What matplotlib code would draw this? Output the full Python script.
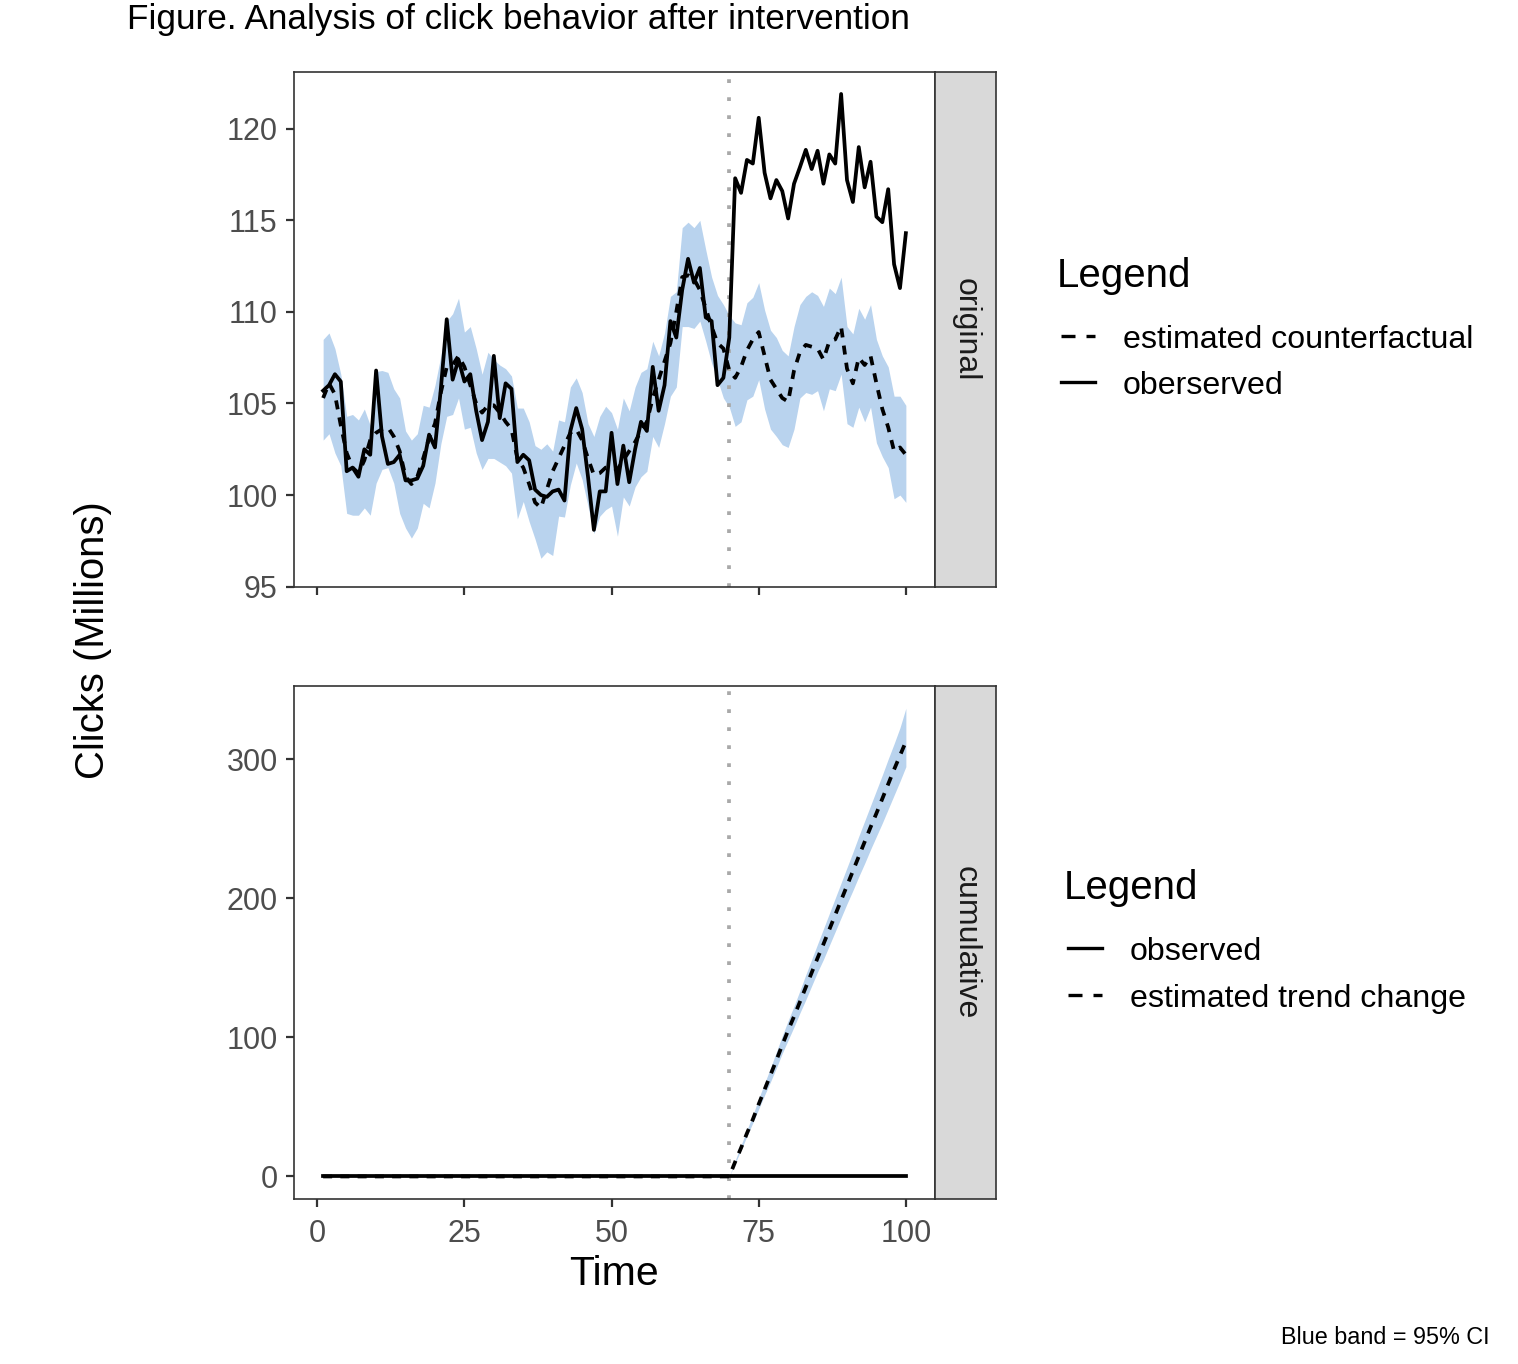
import numpy as np
import matplotlib
matplotlib.use('Agg')
import matplotlib.pyplot as plt
from matplotlib.lines import Line2D

plt.rcParams['font.family'] = ['Liberation Sans', 'DejaVu Sans']

# data
time = list(range(1, 101))
observed = [105.7, 106.0, 106.6, 106.2, 101.3, 101.5, 101.0, 102.5, 102.2, 106.8,
            103.2, 101.7, 101.8, 102.2, 100.8, 100.8, 100.9, 101.6, 103.3, 102.6,
            105.8, 109.6, 106.3, 107.4, 106.2, 106.6, 104.6, 103.0, 104.0, 107.6,
            104.2, 106.1, 105.8, 101.8, 102.2, 101.9, 100.3, 100.0, 99.9, 100.2,
            100.3, 99.7, 103.5, 104.75, 103.6, 101.0, 98.1, 100.2, 100.2, 103.4,
            100.6, 102.7, 100.7, 102.5, 104.0, 103.5, 107.0, 104.6, 106.0, 109.5,
            108.6, 111.2, 112.9, 111.6, 112.4, 109.7, 109.5, 106.0, 106.4, 108.6,
            117.3, 116.5, 118.3, 118.1, 120.6, 117.6, 116.2, 117.2, 116.6, 115.1,
            117.0, 117.9, 118.85, 117.8, 118.8, 117.0, 118.6, 118.1, 121.9, 117.2,
            116.0, 119.0, 116.8, 118.2, 115.2, 114.9, 116.7, 112.6, 111.3, 114.3]
counterfactual = [105.3, 106.1, 105.5, 103.8, 102.3, 101.5, 101.2, 101.9, 103.0, 103.4,
                  103.6, 103.7, 103.2, 102.4, 101.0, 100.6, 101.0, 102.0, 103.1, 103.9,
                  105.6, 107.0, 107.1, 107.6, 107.0, 106.0, 105.0, 104.5, 104.9, 104.9,
                  104.5, 104.0, 103.6, 102.0, 101.5, 100.6, 99.6, 99.3, 100.3, 101.3,
                  102.0, 102.7, 103.4, 103.6, 103.0, 102.0, 101.1, 101.2, 101.5, 101.5,
                  101.4, 101.9, 102.4, 102.9, 103.5, 104.0, 105.3, 106.3, 107.3, 108.3,
                  110.0, 111.9, 112.0, 111.8, 111.2, 110.2, 109.2, 108.3, 108.0, 106.8,
                  106.4, 107.0, 107.9, 108.5, 108.9, 107.6, 106.3, 105.8, 105.3, 105.1,
                  106.8, 107.8, 108.2, 108.1, 108.0, 107.4, 108.4, 108.5, 109.2, 106.9,
                  106.1, 107.5, 107.1, 107.6, 106.1, 104.7, 103.7, 102.4, 102.6, 102.2]
band_upper = [108.5, 108.85, 108.0, 106.6, 104.3, 104.4, 104.1, 104.7, 103.8, 106.75,
              106.8, 106.7, 105.8, 105.3, 103.5, 103.0, 103.35, 104.9, 104.8, 106.0,
              107.6, 109.5, 109.9, 110.75, 108.9, 109.2, 108.0, 106.6, 107.8, 107.4,
              107.1, 106.9, 106.5, 104.75, 104.75, 104.0, 102.7, 102.5, 102.8, 102.4,
              104.1, 104.0, 105.9, 106.4, 105.6, 103.9, 103.2, 104.3, 104.85, 104.5,
              103.6, 105.3, 104.6, 105.9, 106.7, 106.9, 108.4, 107.6, 108.85, 110.85,
              111.1, 114.6, 114.9, 114.6, 115.0, 113.4, 111.9, 110.9, 110.4, 109.8,
              109.4, 109.3, 110.5, 110.8, 111.6, 110.1, 109.0, 108.6, 107.9, 107.6,
              109.2, 110.4, 110.85, 111.1, 110.9, 110.3, 111.3, 111.0, 111.9, 109.2,
              108.8, 110.2, 109.6, 110.4, 108.5, 107.6, 107.0, 105.4, 105.4, 104.9]
band_lower = [103.0, 103.35, 102.3, 101.6, 99.0, 98.9, 98.9, 99.3, 98.9, 100.65,
              101.4, 101.5, 100.65, 99.0, 98.2, 97.65, 98.2, 99.55, 99.3, 100.65,
              102.8, 104.3, 104.4, 105.3, 103.6, 103.7, 102.3, 101.4, 102.0, 102.0,
              101.8, 101.6, 101.2, 98.7, 99.65, 98.55, 97.6, 96.55, 96.9, 96.7,
              98.85, 98.8, 100.55, 101.75, 100.85, 99.4, 97.9, 98.85, 99.2, 99.4,
              97.75, 99.9, 99.4, 100.45, 101.0, 101.3, 103.2, 102.6, 103.9, 105.4,
              105.9, 109.2, 109.2, 109.1, 109.5, 108.4, 107.2, 106.3, 105.3, 104.8,
              103.75, 104.0, 105.2, 105.4, 106.3, 104.7, 103.6, 103.2, 102.75, 102.6,
              103.6, 105.3, 105.6, 105.5, 105.7, 104.6, 105.8, 105.7, 106.6, 103.9,
              103.7, 104.8, 104.0, 104.8, 102.85, 102.1, 101.5, 99.8, 100.0, 99.6]

# cumulative panel
cum_observed = [0.0] * 100
post_time = list(range(70, 101))
cum_post = [0.0, 10.5, 20.5, 31.0, 41.0, 52.0, 62.5, 73.0, 83.5, 94.5, 105.0,
            115.0, 125.5, 136.0, 146.5, 157.0, 167.0, 177.5, 188.0, 198.5, 209.0,
            219.5, 230.0, 240.5, 251.0, 261.0, 271.5, 282.0, 292.5, 302.5, 312.5]
cum_effect = [0.0] * 69 + cum_post
cum_lower = [0.0, 9.5, 19.0, 29.0, 38.5, 48.5, 58.5, 68.0, 78.0, 88.5, 98.0,
             107.5, 117.5, 127.0, 137.0, 147.0, 156.0, 166.0, 176.0, 186.0, 196.0,
             205.5, 215.5, 225.0, 235.0, 244.5, 254.0, 264.0, 274.0, 284.0, 294.5]
cum_upper = [0.0, 11.5, 22.5, 33.5, 44.0, 56.0, 67.0, 78.0, 89.5, 101.0, 112.0,
             122.5, 133.5, 145.0, 156.0, 167.0, 178.0, 189.0, 200.0, 211.0, 222.0,
             233.0, 244.5, 255.5, 266.5, 277.5, 288.5, 300.0, 311.0, 322.5, 336.5]

intervention = 70
band_col = '#B9D3EE'
W, H = 1518, 1364
fig = plt.figure(figsize=(W / 100, H / 100), dpi=100)

def px_axes(x0, y0, x1, y1):
    return fig.add_axes([x0 / W, 1 - y1 / H, (x1 - x0) / W, (y1 - y0) / H])

ax1 = px_axes(294, 72, 935, 587)
ax2 = px_axes(294, 686, 935, 1199)
s1 = px_axes(935, 72, 996, 587)
s2 = px_axes(935, 686, 996, 1199)

lw = 2.7
dash = (0, (2.4, 2.2))
dots = (0, (1, 3.8))
ax1.fill_between(time, band_lower, band_upper, color=band_col, lw=0)
ax1.axvline(intervention, color='#a9a9a9', lw=lw, ls=dots)
ax1.plot(time, counterfactual, color='black', lw=lw, ls=dash)
ax1.plot(time, observed, color='black', lw=lw)

ax2.fill_between(post_time, cum_lower, cum_upper, color=band_col, lw=0)
ax2.axvline(intervention, color='#a9a9a9', lw=lw, ls=dots)
ax2.plot(time, cum_observed, color='black', lw=lw)
ax2.plot(time, cum_effect, color='black', lw=lw, ls=dash)

ax1.set_ylim(94.98, 123.1)
ax1.set_yticks([95, 100, 105, 110, 115, 120])
ax2.set_ylim(-16.2, 352.5)
ax2.set_yticks([0, 100, 200, 300])
for ax in (ax1, ax2):
    ax.set_xlim(-3.95, 104.95)
    ax.set_xticks([0, 25, 50, 75, 100])
    for sp in ax.spines.values():
        sp.set_color('#333333')
        sp.set_linewidth(1.2)
    ax.tick_params(colors='#333333', labelcolor='#4d4d4d', labelsize=22,
                   length=5.8, width=1.6, pad=6)
ax1.tick_params(axis='x', labelbottom=False)
ax2.tick_params(axis='x', pad=8.5)

for s, lab in ((s1, 'original'), (s2, 'cumulative')):
    s.set_facecolor('#d9d9d9')
    s.set_xticks([])
    s.set_yticks([])
    for sp in s.spines.values():
        sp.set_color('#333333')
        sp.set_linewidth(1.2)
    s.text(0.5, 0.5, lab, rotation=-90, ha='center', va='center',
           fontsize=23, color='#1a1a1a', transform=s.transAxes)

fig.text(127 / W, 1 - 19.5 / H, 'Figure. Analysis of click behavior after intervention',
         fontsize=25.3, ha='left', va='center')
fig.text(614 / W, 1 - 1274 / H, 'Time', fontsize=29.5, ha='center', va='center')
fig.text(93 / W, 1 - 640 / H, 'Clicks (Millions)', fontsize=28.8, rotation=90,
         ha='center', va='center')
fig.text(1490 / W, 1 - 1338 / H, 'Blue band = 95% CI', fontsize=16.8,
         ha='right', va='center')

# legends drawn by hand in pixel positions
def legend(x_title, y_title, x_key, x_text, rows):
    fig.text(x_title / W, 1 - y_title / H, 'Legend', fontsize=29,
             ha='left', va='center')
    for y, style, label in rows:
        fig.add_artist(Line2D([x_key / W, (x_key + 34) / W], [1 - y / H, 1 - y / H],
                              transform=fig.transFigure, color='black', lw=2.4,
                              ls=style))
        fig.text(x_text / W, 1 - y / H, label, fontsize=23.1, ha='left',
                 va='center_baseline')

legend(1057, 276, 1061, 1123, [(336, (0, (4.2, 3.3)), 'estimated counterfactual'),
                               (382, '-', 'oberserved')])
legend(1064, 888, 1068, 1130, [(948, '-', 'observed'),
                               (995, (0, (4.2, 3.3)), 'estimated trend change')])

fig.savefig('out.png', dpi=100)
